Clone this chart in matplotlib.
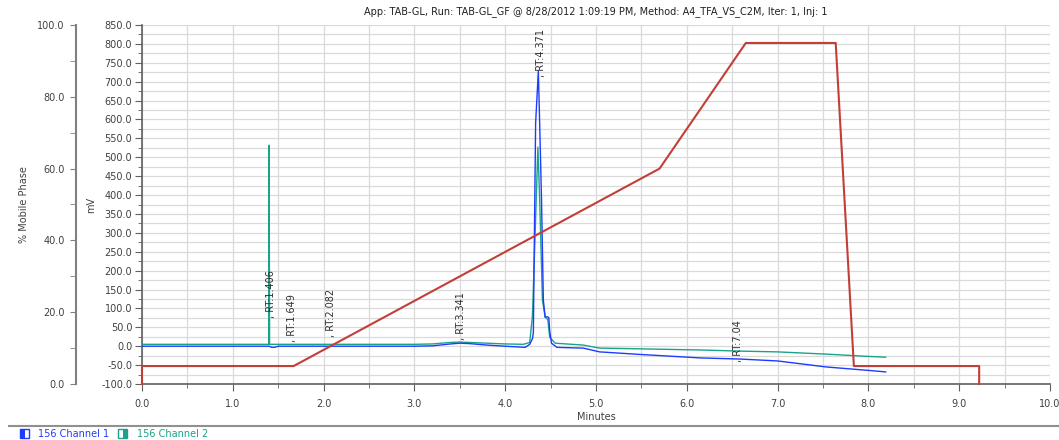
import matplotlib
matplotlib.use("Agg")
import matplotlib.pyplot as plt
from matplotlib.lines import Line2D
from matplotlib.patches import Rectangle
from matplotlib.ticker import MultipleLocator, FormatStrFormatter

plt.rcParams['font.family'] = ['DejaVu Sans']
plt.rcParams['axes.unicode_minus'] = False

title = "App: TAB-GL, Run: TAB-GL_GF @ 8/28/2012 1:09:19 PM, Method: A4_TFA_VS_C2M, Iter: 1, Inj: 1"

# Channel 1 (blue) trace, minutes / mV
ch1_time = [0.0, 1.40, 1.43, 1.46, 1.50, 1.65, 2.0, 2.5, 3.0, 3.2, 3.4, 3.5, 3.6, 3.8, 4.0,
            4.22, 4.27, 4.30, 4.31, 4.335, 4.365, 4.38, 4.40, 4.42, 4.44, 4.46, 4.48, 4.49,
            4.51, 4.57, 4.7, 4.86, 5.04, 5.5, 6.15, 6.59, 7.0, 7.54, 8.0, 8.19]
ch1_mv = [0, 0, -3, -3, 0, 0, 0, 0, 0, 1, 6, 8, 7, 3, 0,
          -3, 5, 20, 35, 590, 729, 585, 387, 122, 77, 78, 76, 40,
          8, -3, -4, -5, -15, -22, -31, -34, -39, -55, -64, -68]

# Channel 2 (teal) trace, minutes / mV
ch2_time = [0.0, 1.395, 1.40, 1.405, 2.0, 3.0, 3.2, 3.4, 3.5, 3.6, 3.8, 4.0, 4.2,
            4.27, 4.30, 4.33, 4.36, 4.38, 4.41, 4.44, 4.47, 4.49, 4.55, 4.86, 5.04,
            5.5, 6.15, 6.59, 7.0, 7.54, 8.0, 8.19]
ch2_mv = [5, 5, 532, 5, 5, 5, 6, 10, 11, 10, 8, 6, 5,
          10, 80, 300, 527, 387, 122, 77, 70, 24, 8, 3, -5,
          -7, -10, -13, -15, -21, -27, -29]

# Gradient (% Mobile Phase)
grad_time = [0.0, 0.0, 1.67, 5.70, 6.65, 7.64, 7.84, 9.22, 9.22]
grad_pct = [0, 5, 5, 60, 95, 95, 5, 5, 0]

# Peak labels
rt_labels = [", RT:1.406", ", RT:1.649", ", RT:2.082", ", RT:3.341", ", RT:4.371", ", RT:7.04"]
rt_label_x = [1.42, 1.65, 2.08, 3.51, 4.39, 6.56]
rt_label_y = [75, 11, 24, 16, 712, -42]

blue = '#1e3cff'
teal = '#1aa38a'
red = '#c23f37'
tc = '#404040'

fig = plt.figure(figsize=(10.59, 4.40), dpi=100)
W, H = 1059, 440
L, R, T, B = 142, 1050, 25, 384
ax = fig.add_axes([L / W, 1 - B / H, (R - L) / W, (B - T) / H])

ax.set_xlim(0, 10)
ax.set_ylim(-100, 850)
ax.xaxis.set_major_locator(MultipleLocator(1.0))
ax.xaxis.set_minor_locator(MultipleLocator(0.5))
ax.yaxis.set_major_locator(MultipleLocator(50))
ax.yaxis.set_minor_locator(MultipleLocator(25))
ax.xaxis.set_major_formatter(FormatStrFormatter('%.1f'))
ax.yaxis.set_major_formatter(FormatStrFormatter('%.1f'))
ax.grid(True, which='both', color='#dadada', linewidth=0.9)
ax.set_axisbelow(True)
for s in ['top', 'right']:
    ax.spines[s].set_visible(False)
for s in ['left', 'bottom']:
    ax.spines[s].set_color('#606060')
    ax.spines[s].set_linewidth(1.2)
ax.tick_params(axis='both', which='major', length=5, color='#606060', labelsize=7, labelcolor=tc, pad=2)
ax.tick_params(axis='both', which='minor', length=3, color='#606060')
ax.tick_params(axis='x', which='major', pad=6)

ax.plot(ch2_time, ch2_mv, color=teal, lw=1.0, zorder=3)
ax.plot(ch1_time, ch1_mv, color=blue, lw=1.0, zorder=4)

for lab, x, y in zip(rt_labels, rt_label_x, rt_label_y):
    ax.text(x, y, lab, rotation=90, ha='center', va='bottom', fontsize=7, color='#303030', zorder=6)

ax.set_xlabel("Minutes", fontsize=7, color=tc, labelpad=2)
ax.set_ylabel("mV", fontsize=7, color=tc, labelpad=4)

ax2 = ax.twinx()
ax2.set_ylim(0, 100)
ax2.spines['right'].set_visible(False)
ax2.spines['top'].set_visible(False)
ax2.spines['bottom'].set_visible(False)
ax2.spines['left'].set_visible(True)
ax2.spines['left'].set_position(('axes', (76 - L) / (R - L)))
ax2.spines['left'].set_color('#808080')
ax2.spines['left'].set_linewidth(1.5)
ax2.yaxis.set_ticks_position('left')
ax2.yaxis.set_label_position('left')
ax2.yaxis.set_major_locator(MultipleLocator(20))
ax2.yaxis.set_minor_locator(MultipleLocator(10))
ax2.yaxis.set_major_formatter(FormatStrFormatter('%.1f'))
ax2.tick_params(axis='y', which='major', length=4, color='#808080', labelsize=7, labelcolor=tc, pad=4)
ax2.tick_params(axis='y', which='minor', length=4, color='#808080')
ax2.set_ylabel("% Mobile Phase", fontsize=7, color=tc, labelpad=6)
ax2.plot(grad_time, grad_pct, color=red, lw=1.5, clip_on=False, zorder=5)

fig.text((L + R) / 2 / W, 1 - 12 / H, title, ha='center', va='center', fontsize=7, color='#202020')

fig.add_artist(Line2D([9 / W, 1.0], [1 - 426 / H, 1 - 426 / H], color='#909090', lw=1.5))

# legend
def icon(x0, color, right_fill):
    fig.add_artist(Rectangle((x0 / W, 1 - 438 / H), 9 / W, 9 / H, facecolor='white',
                             edgecolor=color, lw=1.0, transform=fig.transFigure))
    fx = x0 + (4.5 if right_fill else 0)
    fig.add_artist(Rectangle((fx / W, 1 - 438 / H), 4.5 / W, 9 / H, facecolor=color,
                             edgecolor='none', transform=fig.transFigure))

icon(20, blue, False)
fig.text(38 / W, 1 - 433.5 / H, "156 Channel 1", fontsize=7, color=blue, va='center', ha='left')
icon(118, teal, True)
fig.text(137 / W, 1 - 433.5 / H, "156 Channel 2", fontsize=7, color=teal, va='center', ha='left')

fig.savefig("out.png", dpi=100)
